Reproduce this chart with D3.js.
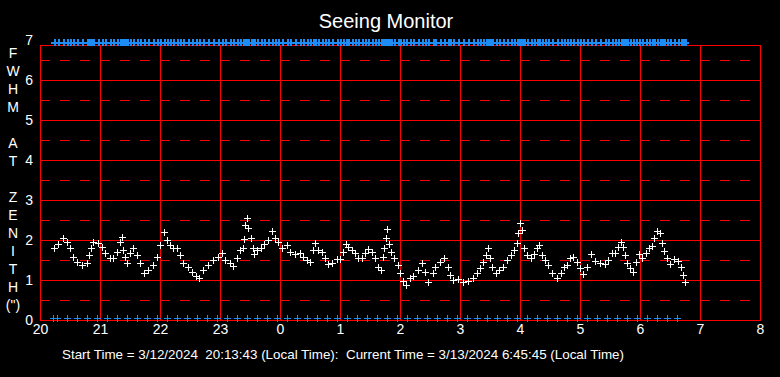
<html>
<head>
<meta charset="utf-8">
<title>Seeing Monitor</title>
<style>
  body { margin: 0; background: #000; }
  svg { display: block; }
  text { font-family: "Liberation Sans", Arial, sans-serif; fill: #fff; }
  .grid line { stroke: #ff0000; shape-rendering: crispEdges; }
  .grid path { display: none; }
  .lab path, .lab line { display: none; }
  .lab text { font-size: 14px; }
  .mk path { shape-rendering: crispEdges; }
</style>
</head>
<body>
<script src="https://cdn.jsdelivr.net/npm/d3@7"></script>
<script>

var width = 780, height = 377;
var margin = {left: 40, right: 20, top: 45, bottom: 57};

var minutes = [14,18,23,27,30,33,37,42,47,49,51,53,58,62,65,70,73,77,80,82,83,85,87,90,93,97,100,104,108,113,
  117,120,124,127,130,133,137,140,143,148,152,156,159,163,168,173,178,182,185,190,193,197,200,203,204,205,207,208,211,213,
  214,217,221,224,228,232,235,238,242,247,250,255,260,263,267,270,273,275,278,282,285,288,292,297,300,303,306,308,312,315,
  318,322,325,328,332,335,338,341,343,344,346,347,349,351,354,358,360,363,366,370,373,378,382,385,388,393,395,400,404,408,
  410,413,418,423,428,433,437,440,443,446,448,450,452,456,459,463,467,471,474,477,478,480,482,484,487,491,494,497,499,502,
  505,508,512,517,521,524,527,530,533,537,540,543,547,551,555,560,565,568,572,575,578,581,583,585,587,590,593,596,599,602,
  606,609,612,614,617,620,622,624,627,630,634,638,641,643,645];
var fwhm = [1.81,1.89,2.04,1.96,1.79,1.58,1.46,1.38,1.42,1.63,1.79,1.96,1.92,1.83,1.67,1.54,1.56,1.71,1.96,2.07,1.75,1.58,1.42,1.67,1.79,1.63,1.42,1.17,1.25,1.38,
  1.58,1.88,2.21,2.00,1.88,1.79,1.79,1.63,1.42,1.33,1.21,1.10,1.06,1.25,1.38,1.50,1.58,1.67,1.50,1.42,1.35,1.54,1.75,1.79,2.02,2.38,2.56,2.29,2.06,1.79,
  1.64,1.75,1.79,1.89,2.00,2.23,2.04,1.96,1.79,1.88,1.71,1.64,1.67,1.58,1.50,1.46,1.75,1.92,1.75,1.71,1.54,1.39,1.42,1.53,1.53,1.71,1.89,1.83,1.75,1.67,
  1.54,1.54,1.67,1.78,1.71,1.54,1.33,1.25,1.58,1.79,2.04,2.27,1.89,1.71,1.54,1.38,1.17,0.98,0.88,1.04,1.11,1.25,1.42,1.21,0.96,1.17,1.33,1.46,1.54,1.33,
  1.13,1.00,1.03,0.96,0.98,1.06,1.17,1.29,1.46,1.63,1.81,1.54,1.33,1.17,1.25,1.33,1.50,1.63,1.75,1.92,2.17,2.42,2.25,1.81,1.63,1.54,1.64,1.79,1.88,1.63,
  1.50,1.38,1.17,1.04,1.17,1.33,1.38,1.54,1.58,1.46,1.29,1.15,1.33,1.64,1.48,1.42,1.39,1.50,1.67,1.67,1.83,1.94,1.83,1.63,1.42,1.29,1.21,1.46,1.64,1.54,
  1.67,1.79,1.86,2.04,2.23,2.17,1.92,1.73,1.54,1.39,1.53,1.48,1.33,1.13,0.96];

// status markers: top row (per sample) and bottom row (every 10 min)
var topLevel = 6.94;
var bottomMinutes = [13,17,27,37,47,57,67,77,87,97,107,117,127,137,147,157,167,177,187,197,207,217,227,237,247,257,267,277,287,297,
  307,317,327,337,347,357,367,377,387,397,407,417,427,437,447,457,467,477,487,497,507,517,527,537,547,557,567,577,587,597,
  607,617,627,637];
var bottomLevel = 0.05;

var hourTicks = [20,21,22,23,24,25,26,27,28,29,30,31,32];
var fwhmTicks = [0,1,2,3,4,5,6,7];
var halfTicks = [0.5,1.5,2.5,3.5,4.5,5.5,6.5];
var yLetters = ["F","W","H","M","","A","T","","Z","E","N","I","T","H","(\")"];

var startText = "Start Time = 3/12/2024  20:13:43 (Local Time):  Current Time = 3/13/2024 6:45:45 (Local Time)";

var svg = d3.select("body").append("svg")
  .attr("width", width).attr("height", height);

svg.append("rect").attr("width", width).attr("height", height).attr("fill", "#000");

var x = d3.scaleLinear().domain([20, 32]).range([margin.left, width - margin.right]);
var y = d3.scaleLinear().domain([0, 7]).range([height - margin.bottom, 40]);
var plotTop = margin.top, plotBottom = height - margin.bottom;

// dashed half-unit lines
svg.append("g").attr("class", "grid")
  .attr("transform", "translate(" + margin.left + ",0)")
  .call(d3.axisLeft(y).tickValues(halfTicks).tickSize(-(x.range()[1] - x.range()[0])).tickFormat(""))
  .selectAll("line").attr("stroke-dasharray", "10,10");

// solid unit lines
svg.append("g").attr("class", "grid")
  .attr("transform", "translate(" + margin.left + ",0)")
  .call(d3.axisLeft(y).tickValues([1,2,3,4,5,6]).tickSize(-(x.range()[1] - x.range()[0])).tickFormat(""));

// vertical hour lines
svg.append("g").attr("class", "grid")
  .attr("transform", "translate(0," + plotBottom + ")")
  .call(d3.axisBottom(x).tickValues(hourTicks.slice(1, -1)).tickSize(-(plotBottom - plotTop)).tickFormat(""));

// frame
svg.append("rect")
  .attr("x", x(20) + 0.5).attr("y", plotTop + 0.5)
  .attr("width", x(32) - x(20)).attr("height", plotBottom - plotTop)
  .attr("fill", "none").attr("stroke", "#ff0000");

// tick labels
svg.append("g").attr("class", "lab")
  .attr("transform", "translate(" + (margin.left - 1) + ",0)")
  .call(d3.axisLeft(y).tickValues(fwhmTicks).tickSize(0).tickPadding(6).tickFormat(d3.format("d")));

svg.append("g").attr("class", "lab")
  .attr("transform", "translate(0," + plotBottom + ")")
  .call(d3.axisBottom(x).tickValues(hourTicks).tickSize(0).tickPadding(4).tickFormat(function(d) { return d % 24; }));

function cross(sel, color, w) {
  sel.append("path")
    .attr("d", "M-3,0H4M0.5,-3.5V3.5")
    .attr("stroke", color)
    .attr("stroke-width", w || 1)
    .attr("fill", "none");
}

var hr = function(m) { return 20 + m / 60; };
var px = function(v) { return Math.round(v) + 0.5; };

// top status row
svg.append("g").attr("class", "mk").selectAll("g").data(minutes).enter().append("g")
  .attr("transform", function(d) { return "translate(" + Math.round(x(hr(d))) + "," + px(y(topLevel)) + ")"; })
  .call(cross, "#1e8cf5", 2);

// bottom status row
svg.append("g").attr("class", "mk").selectAll("g").data(bottomMinutes).enter().append("g")
  .attr("transform", function(d) { return "translate(" + Math.round(x(hr(d))) + "," + px(y(bottomLevel)) + ")"; })
  .call(cross, "#1e8cf5");

// FWHM samples
svg.append("g").attr("class", "mk").selectAll("g").data(minutes).enter().append("g")
  .attr("transform", function(d, i) { return "translate(" + Math.round(x(hr(d))) + "," + px(y(fwhm[i])) + ")"; })
  .call(cross, "#ffffff");

// title
svg.append("text")
  .attr("x", 386).attr("y", 28)
  .attr("text-anchor", "middle")
  .style("font-size", "20px")
  .text("Seeing Monitor");

// vertical axis title, one letter per line
svg.append("g").selectAll("text").data(yLetters).enter().append("text")
  .attr("x", 13).attr("y", function(d, i) { return 58 + i * 18; })
  .attr("text-anchor", "middle")
  .style("font-size", "14px")
  .text(function(d) { return d; });

// footer
svg.append("text")
  .attr("x", 62).attr("y", 359)
  .attr("xml:space", "preserve")
  .style("font-size", "13.4px")
  .text(startText);

</script>
</body>
</html>
